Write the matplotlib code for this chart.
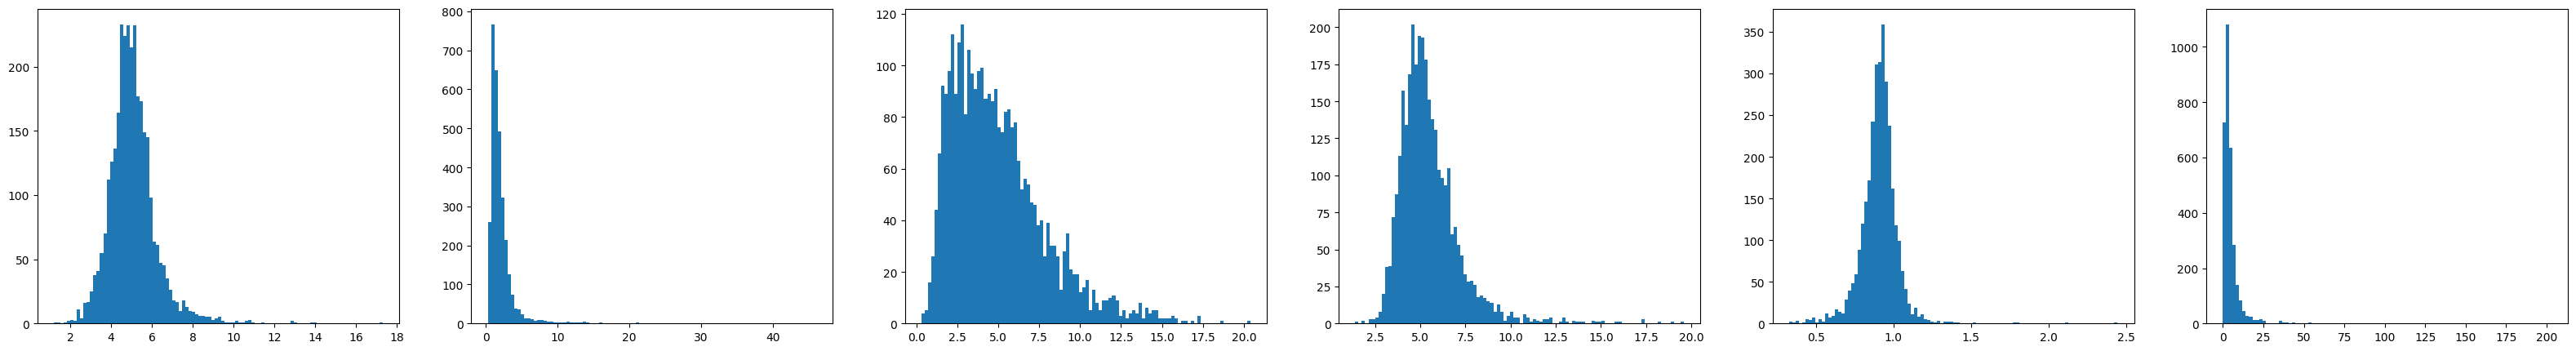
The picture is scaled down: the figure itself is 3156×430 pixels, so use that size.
import numpy as np
import matplotlib.pyplot as plt

# min / max of each column (histogram range), 100 bins each
lows = [1.207, 0.253, 0.3175, 1.40, 0.3272, -0.1]
highs = [17.297, 46.05, 20.387, 19.59, 2.4448, 202.95]

# bin counts
counts_1 = [1, 1, 0, 1, 2, 3, 2, 11, 4, 16,
            17, 25, 38, 41, 55, 70, 112, 126, 136, 164,
            233, 224, 232, 215, 232, 177, 173, 149, 145, 98,
            64, 61, 47, 45, 35, 26, 18, 17, 10, 18,
            13, 10, 9, 7, 6, 6, 5, 5, 3, 4,
            5, 2, 1, 1, 1, 2, 1, 1, 2, 3,
            1, 0, 0, 1, 0, 0, 0, 0, 0, 0,
            0, 0, 2, 1, 0, 0, 0, 0, 1, 1,
            0, 0, 0, 0, 0, 0, 0, 0, 0, 0,
            0, 0, 0, 0, 0, 0, 0, 0, 0, 1]

counts_2 = [259, 767, 649, 492, 322, 214, 126, 74, 39, 37,
            23, 14, 14, 12, 6, 8, 8, 6, 4, 4,
            2, 2, 2, 2, 4, 2, 2, 2, 2, 4,
            2, 1, 1, 1, 2, 0, 0, 0, 0, 0,
            0, 0, 0, 0, 0, 2, 0, 0, 0, 0,
            0, 0, 0, 0, 0, 0, 0, 0, 0, 0,
            0, 0, 0, 0, 0, 0, 0, 0, 0, 0,
            0, 0, 0, 0, 0, 0, 0, 0, 0, 0,
            0, 0, 0, 0, 0, 0, 0, 0, 0, 0,
            0, 0, 0, 0, 0, 0, 0, 0, 0, 1]

counts_3 = [4, 5, 16, 26, 44, 66, 92, 89, 98, 112,
            89, 109, 116, 81, 106, 97, 91, 98, 99, 87,
            89, 86, 91, 76, 74, 82, 83, 76, 78, 63,
            52, 56, 54, 47, 46, 38, 40, 26, 39, 30,
            30, 26, 13, 28, 35, 21, 19, 19, 12, 14,
            17, 5, 13, 8, 5, 9, 9, 10, 11, 9,
            3, 5, 2, 4, 5, 4, 8, 2, 6, 4,
            5, 5, 2, 2, 2, 2, 3, 2, 0, 1,
            1, 0, 1, 0, 3, 0, 0, 0, 0, 0,
            0, 1, 0, 0, 0, 0, 0, 0, 0, 1]

counts_4 = [1, 0, 2, 0, 3, 3, 4, 8, 20, 38,
            39, 72, 87, 113, 157, 134, 168, 202, 175, 194,
            193, 178, 151, 138, 131, 104, 98, 93, 105, 60,
            65, 53, 46, 33, 28, 29, 26, 18, 19, 17,
            15, 14, 8, 13, 8, 2, 5, 8, 4, 4,
            0, 6, 4, 1, 3, 2, 1, 3, 3, 4,
            0, 0, 1, 4, 1, 0, 2, 1, 1, 1,
            0, 0, 2, 1, 1, 2, 0, 0, 0, 1,
            1, 0, 0, 0, 0, 0, 0, 3, 0, 0,
            0, 0, 1, 0, 0, 0, 1, 0, 0, 1]

counts_5 = [2, 1, 3, 0, 1, 5, 4, 7, 1, 5,
            2, 12, 7, 9, 17, 14, 12, 29, 39, 48,
            59, 88, 120, 146, 172, 242, 311, 314, 359, 290,
            237, 162, 118, 99, 63, 41, 24, 11, 19, 8,
            11, 5, 4, 2, 1, 3, 0, 2, 2, 2,
            1, 1, 0, 0, 0, 0, 1, 0, 0, 0,
            0, 0, 0, 0, 0, 0, 0, 0, 1, 1,
            0, 0, 0, 0, 0, 0, 0, 0, 0, 0,
            0, 0, 0, 0, 1, 0, 0, 0, 0, 0,
            0, 0, 0, 0, 0, 0, 0, 0, 0, 1]

counts_6 = [727, 1082, 636, 284, 140, 84, 44, 27, 24, 12,
            12, 15, 9, 0, 0, 0, 0, 9, 3, 3,
            0, 3, 0, 0, 0, 0, 3, 0, 0, 0,
            0, 0, 0, 0, 0, 0, 0, 0, 0, 0,
            0, 0, 0, 0, 0, 0, 0, 0, 0, 0,
            0, 0, 0, 0, 0, 0, 0, 0, 0, 0,
            0, 0, 0, 0, 0, 0, 0, 0, 0, 0,
            0, 0, 0, 0, 0, 0, 0, 0, 0, 0,
            0, 0, 0, 0, 0, 0, 0, 0, 0, 0,
            0, 0, 0, 0, 0, 0, 0, 0, 0, 1]

all_counts = [counts_1, counts_2, counts_3, counts_4, counts_5, counts_6]

fig, axes = plt.subplots(1, 6, figsize=(31.56, 4.31), dpi=100)
fig.subplots_adjust(left=46 / 3156, right=3146 / 3156,
                    bottom=1 - 397.3 / 431, top=1 - 12.3 / 431, wspace=0.2)

for ax, lo, hi, counts in zip(axes, lows, highs, all_counts):
    edges = np.linspace(lo, hi, len(counts) + 1)
    # one weighted sample per bin gives the same bars as plt.hist on raw data
    ax.hist(edges[:-1], bins=edges, weights=counts)

fig.savefig('out.png', dpi=100)
